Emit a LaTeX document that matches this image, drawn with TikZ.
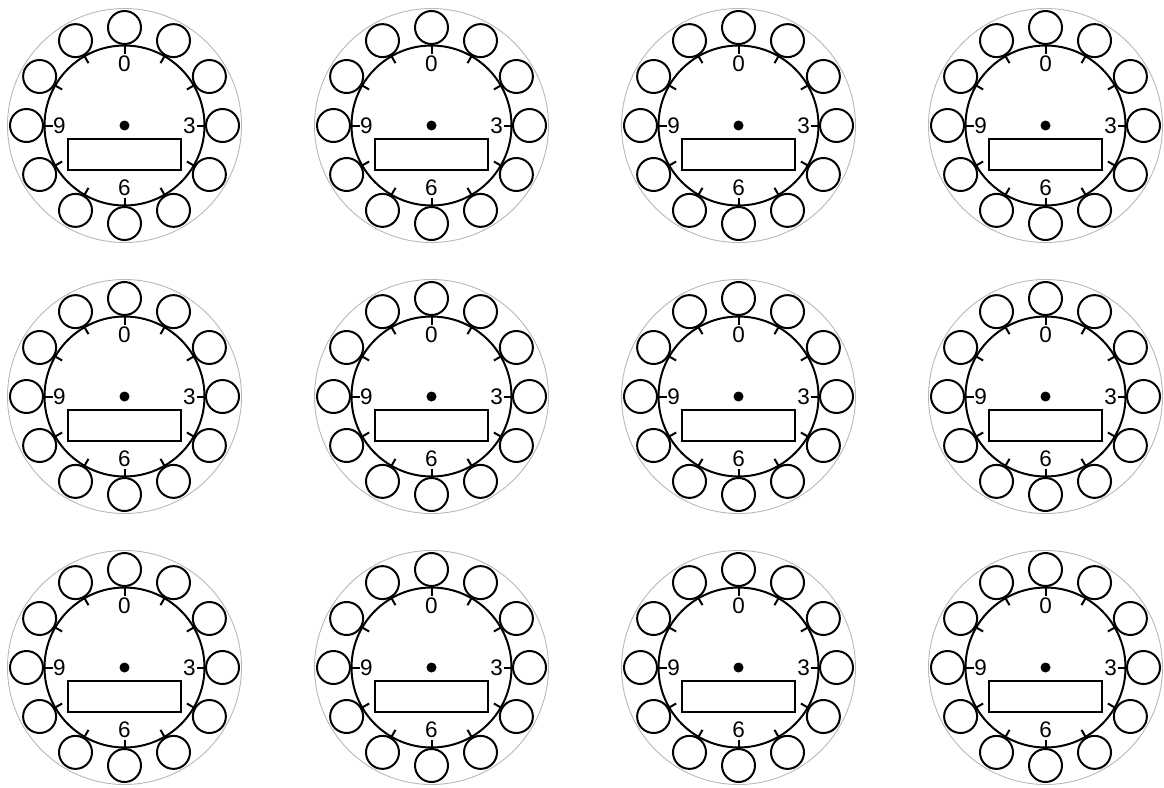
\documentclass[tikz,border=0pt]{standalone}
\usepackage{fontspec}
\setmainfont{Liberation Sans}
\begin{document}
\begin{tikzpicture}[x=1pt,y=1pt,
  rim/.style={draw=black!28, line width=0.9pt},
  dial/.style={draw=black, line width=2pt},
  hole/.style={draw=black, line width=2pt},
  tickmark/.style={draw=black, line width=2pt},
  numlabel/.style={inner sep=0pt, font=\fontsize{22.5}{22.5}\selectfont},
  window/.style={draw=black, line width=2pt, fill=white}]
\useasboundingbox (0,0) rectangle (1164,-787);
\foreach \i in {0,...,3}{
 \foreach \j in {0,...,2}{
  \begin{scope}[shift={(124.5+307*\i,-125.5-271*\j)}]
   \draw[rim] (0,0) circle (117);
   \draw[dial] (0,0) circle (80);
   \foreach \k in {0,...,11}{
     \draw[tickmark] (90-30*\k:72) -- (90-30*\k:82);
     \draw[hole] (90-30*\k:98) circle (16.5);
   }
   \node[numlabel] (n0-\i-\j) at (0,62) {0};
   \node[numlabel] (n3-\i-\j) at (65,0) {3};
   \node[numlabel] (n6-\i-\j) at (0,-62) {6};
   \node[numlabel] (n9-\i-\j) at (-65,0) {9};
   \fill (0,0) circle (5);
   \draw[window] (-56.5,-13) rectangle (56.5,-44);
  \end{scope}
 }
}
\end{tikzpicture}
\end{document}
